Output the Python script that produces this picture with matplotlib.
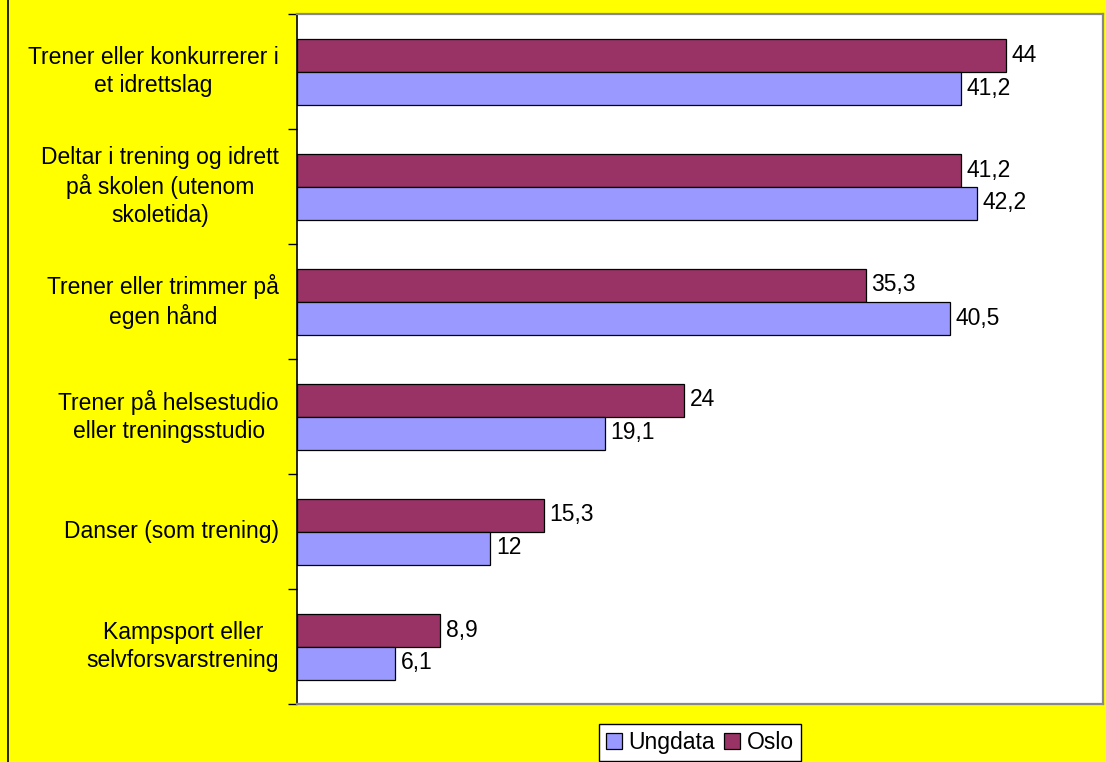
import matplotlib
matplotlib.use("Agg")
import matplotlib.pyplot as plt
from matplotlib.lines import Line2D
from matplotlib.transforms import blended_transform_factory
import numpy as np

plt.rcParams['font.family'] = ['Liberation Sans', 'DejaVu Sans']

categories = [
    "Trener eller konkurrerer i\net idrettslag",
    "Deltar i trening og idrett\npå skolen (utenom\nskoletida)",
    "Trener eller trimmer på\negen hånd",
    "Trener på helsestudio\neller treningsstudio",
    "Danser (som trening)",
    "Kampsport eller\nselvforsvarstrening",
]
oslo = [44, 41.2, 35.3, 24, 15.3, 8.9]
ungdata = [41.2, 42.2, 40.5, 19.1, 12, 6.1]

FS = 16.5
W, H = 1106, 762
fig = plt.figure(figsize=(W / 100, H / 100), dpi=100, facecolor='#FFFF00')
ax = fig.add_axes([297 / W, 1 - 704 / H, (1103 - 297) / W, (704 - 14) / H])
ax.set_facecolor('white')

n = len(categories)
y = np.arange(n)
bh = 33 / 115
ax.barh(y - bh / 2, oslo, height=bh, color='#993366', edgecolor='black', linewidth=0.9, label='Oslo')
ax.barh(y + bh / 2, ungdata, height=bh, color='#9999FF', edgecolor='black', linewidth=0.9, label='Ungdata')

ax.set_xlim(0, 50)
ax.set_ylim(n - 0.5, -0.5)

def fmt(v):
    s = f"{v:g}"
    return s.replace('.', ',')

for i in range(n):
    ax.annotate(fmt(oslo[i]), (oslo[i], y[i] - bh / 2), xytext=(4, 0), textcoords='offset points',
                va='center', ha='left', fontsize=FS)
    ax.annotate(fmt(ungdata[i]), (ungdata[i], y[i] + bh / 2), xytext=(4, 0), textcoords='offset points',
                va='center', ha='left', fontsize=FS)

ax.set_xticks([])
ax.set_yticks(np.arange(-0.5, n, 1.0))
ax.set_yticklabels([])
ax.tick_params(axis='y', direction='out', length=6.5, width=1, color='black')

trans = blended_transform_factory(fig.transFigure, ax.transData)
for i, c in enumerate(categories):
    fig.text(279 / W, i, c, transform=trans, ha='right', va='center', multialignment='center',
             fontsize=FS, linespacing=1.27)

for s in ['top', 'right', 'bottom']:
    ax.spines[s].set_color('#888888')
    ax.spines[s].set_linewidth(1.6)
ax.spines['left'].set_color('black')
ax.spines['left'].set_linewidth(1.2)

handles, labels = ax.get_legend_handles_labels()
leg = fig.legend(handles[::-1], labels[::-1], loc='upper center',
                 bbox_to_anchor=(700 / W, 1 - 724 / H), ncol=2, frameon=True, fancybox=False,
                 framealpha=1.0, facecolor='white',
                 fontsize=FS, handlelength=0.7, handleheight=0.7, handletextpad=0.3,
                 columnspacing=0.4, borderpad=0.3, borderaxespad=0)
leg.get_frame().set_edgecolor('black')
leg.get_frame().set_linewidth(1.0)

fig.add_artist(Line2D([7.5 / W, 7.5 / W], [0, 1], transform=fig.transFigure, color='black', linewidth=1.2))

fig.savefig('out.png', dpi=100, facecolor=fig.get_facecolor())
